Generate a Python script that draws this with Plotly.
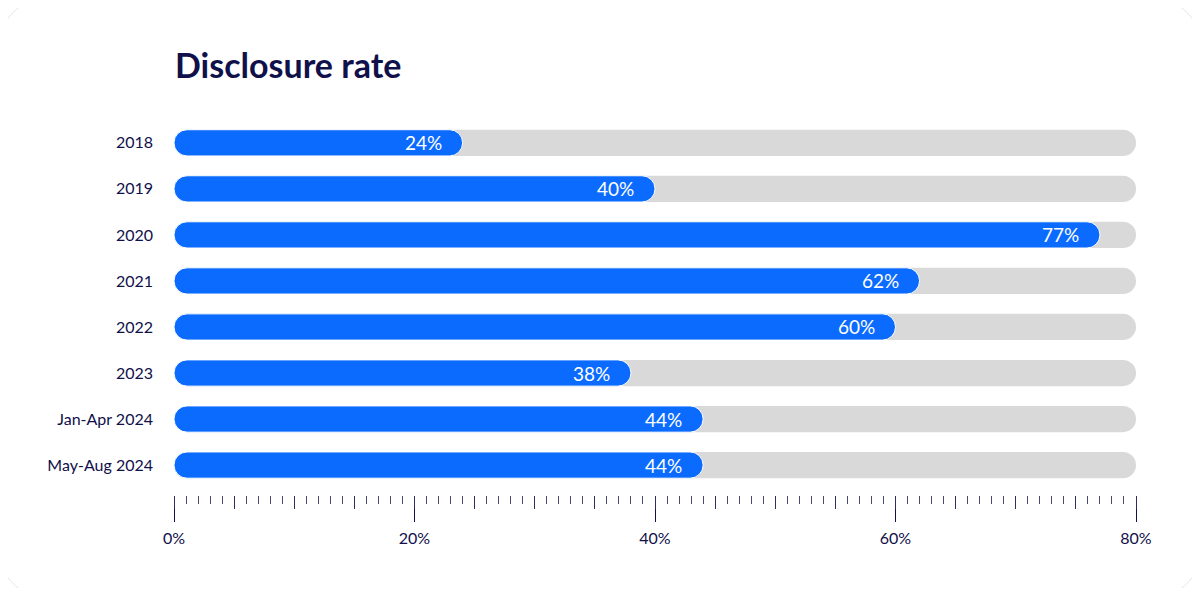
import plotly.graph_objects as go

# Chart data
periods = ["2018", "2019", "2020", "2021", "2022", "2023", "Jan-Apr 2024", "May-Aug 2024"]
rates = [24, 40, 77, 62, 60, 38, 44, 44]
track_max = 80

NAVY = "#10104a"
BLUE = "#0b6bff"
GREY = "#d9d9d9"
FONT = "Lato"

# page body adds an 8px margin, so the figure is a bit smaller than the window
W, H = 1184, 580
L, R, T, B = 166, 56, 104, 93
plot_w = W - L - R
plot_h = H - T - B
BAR_W = 0.57
RADIUS = 13

fig = go.Figure()


def rounded_bar(values, color, hover, outline):
    # an explicit base makes plotly round both ends of the bar
    fig.add_trace(go.Bar(
        y=list(range(len(values))), x=values, base=[0] * len(values),
        orientation="h", width=BAR_W, offset=-BAR_W / 2,
        marker=dict(color=color, line=dict(width=outline, color="white"),
                    cornerradius=RADIUS),
        customdata=values, showlegend=False,
        hovertemplate=hover, hoverinfo=None if hover else "skip",
    ))


rounded_bar([track_max] * len(periods), GREY, None, 0)
rounded_bar(rates, BLUE, "%{customdata}%<extra></extra>", 1)

# value labels just inside the end of each bar
for i, v in enumerate(rates):
    fig.add_annotation(
        x=v, y=i, text=f"{v}%", showarrow=False,
        xanchor="right", xshift=-19,
        font=dict(family=FONT, size=19, color="white"),
    )


# rounded card outline, drawn in paper coordinates
def px2paper(x, y):
    return (x - L) / plot_w, (H - B - y) / plot_h


def card_path(x0, y0, x1, y1, r):
    k = 0.45
    p = lambda x, y: "%.5f,%.5f" % px2paper(x, y)
    pts = [
        "M " + p(x0 + r, y0),
        "L " + p(x1 - r, y0),
        "C " + p(x1 - r * k, y0) + " " + p(x1, y0 + r * k) + " " + p(x1, y0 + r),
        "L " + p(x1, y1 - r),
        "C " + p(x1, y1 - r * k) + " " + p(x1 - r * k, y1) + " " + p(x1 - r, y1),
        "L " + p(x0 + r, y1),
        "C " + p(x0 + r * k, y1) + " " + p(x0, y1 - r * k) + " " + p(x0, y1 - r),
        "L " + p(x0, y0 + r),
        "C " + p(x0, y0 + r * k) + " " + p(x0 + r * k, y0) + " " + p(x0 + r, y0),
    ]
    return " ".join(pts) + " Z"


fig.add_shape(
    type="path", xref="paper", yref="paper", layer="below",
    path=card_path(-7, -7, W + 7, H + 7, 40),
    line=dict(color="#e6e6e6", width=1), fillcolor="white",
)

fig.update_layout(
    width=W, height=H,
    margin=dict(l=L, r=R, t=T, b=B),
    paper_bgcolor="white", plot_bgcolor="rgba(0,0,0,0)",
    barmode="group",
    title=dict(
        text="<b>Disclosure rate</b>", x=167 / W, xanchor="left",
        y=1 - 58 / H, yanchor="middle",
        font=dict(family=FONT, size=34, color=NAVY),
    ),
    font=dict(family=FONT, color=NAVY),
    xaxis=dict(
        range=[0, track_max], tickvals=[0, 20, 40, 60, 80],
        ticktext=["0%", "20%", "40%", "60%", "80%"],
        ticks="outside", ticklen=26, tickwidth=1.3, tickcolor=NAVY,
        minor=dict(dtick=1, ticks="outside", ticklen=8, tickwidth=1, tickcolor="#4a4a70"),
        showgrid=False, zeroline=False, showline=False,
        tickfont=dict(family=FONT, size=16, color=NAVY),
        ticklabelstandoff=3,
        fixedrange=True,
    ),
    xaxis2=dict(
        range=[0, track_max], overlaying="x", anchor="y", side="bottom",
        dtick=5, ticks="outside", ticklen=13, tickwidth=1.3, tickcolor="#2e2e60",
        showticklabels=False, showgrid=False, zeroline=False, showline=False,
        fixedrange=True,
    ),
    yaxis=dict(
        tickmode="array", tickvals=list(range(len(periods))), ticktext=periods,
        range=[7.65, -0.67],
        showgrid=False, zeroline=False, showline=False, ticks="",
        tickfont=dict(family=FONT, size=16, color=NAVY),
        ticklabelstandoff=20,
        fixedrange=True,
    ),
)

# invisible trace so that xaxis2 renders its ticks
fig.add_trace(go.Scatter(x=[0], y=[0], xaxis="x2", mode="markers",
                         marker=dict(opacity=0), hoverinfo="skip", showlegend=False))

fig.write_html("out.html")
